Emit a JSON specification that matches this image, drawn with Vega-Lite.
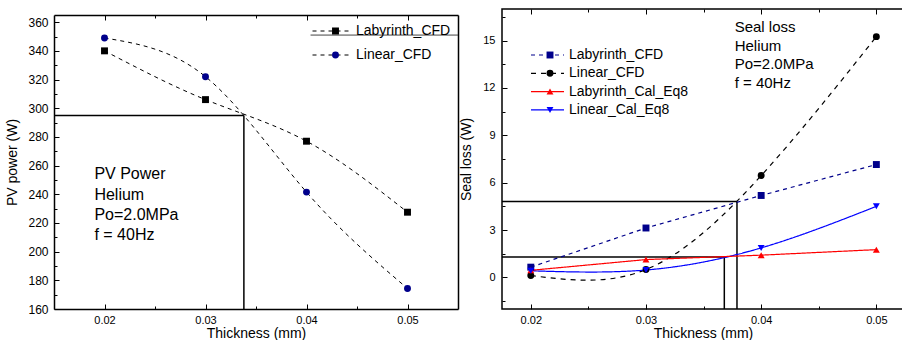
{
  "$schema": "https://vega.github.io/schema/vega-lite/v6.json",
  "background": "white",
  "padding": {"left": 5, "top": 7, "right": 0, "bottom": 0},
  "spacing": 0,
  "config": {
    "font": "Liberation Sans",
    "view": {"stroke": "black", "strokeWidth": 1.5},
    "axis": {"labelFont": "Liberation Sans", "titleFont": "Liberation Sans", "labelFontSize": 11, "titleFontSize": 14, "titleFontWeight": "normal", "labelColor": "black", "titleColor": "black", "tickColor": "black", "tickWidth": 1, "grid": false, "domain": false, "domainColor": "black", "domainWidth": 1.5},
    "legend": {"labelFont": "Liberation Sans", "labelColor": "black", "padding": 0}
  },
  "resolve": {"scale": {"x": "independent", "y": "independent", "color": "independent", "stroke": "independent", "shape": "independent", "strokeDash": "independent"}},
  "datasets": {
    "left_series": [
      {"series": "Labyrinth_CFD", "thickness": 0.02, "power": 340},
      {"series": "Labyrinth_CFD", "thickness": 0.03, "power": 306},
      {"series": "Labyrinth_CFD", "thickness": 0.04, "power": 277},
      {"series": "Labyrinth_CFD", "thickness": 0.05, "power": 227.5},
      {"series": "Linear_CFD", "thickness": 0.02, "power": 349},
      {"series": "Linear_CFD", "thickness": 0.03, "power": 322},
      {"series": "Linear_CFD", "thickness": 0.04, "power": 241.5},
      {"series": "Linear_CFD", "thickness": 0.05, "power": 174.3}
    ],
    "right_series": [
      {"series": "Labyrinth_CFD", "thickness": 0.02, "loss": 0.65},
      {"series": "Labyrinth_CFD", "thickness": 0.03, "loss": 3.13},
      {"series": "Labyrinth_CFD", "thickness": 0.04, "loss": 5.19},
      {"series": "Labyrinth_CFD", "thickness": 0.05, "loss": 7.15},
      {"series": "Linear_CFD", "thickness": 0.02, "loss": 0.12},
      {"series": "Linear_CFD", "thickness": 0.03, "loss": 0.5},
      {"series": "Linear_CFD", "thickness": 0.04, "loss": 6.45},
      {"series": "Linear_CFD", "thickness": 0.05, "loss": 15.25},
      {"series": "Labyrinth_Cal_Eq8", "thickness": 0.02, "loss": 0.45},
      {"series": "Labyrinth_Cal_Eq8", "thickness": 0.03, "loss": 1.13},
      {"series": "Labyrinth_Cal_Eq8", "thickness": 0.04, "loss": 1.41},
      {"series": "Labyrinth_Cal_Eq8", "thickness": 0.05, "loss": 1.76},
      {"series": "Linear_Cal_Eq8", "thickness": 0.02, "loss": 0.42},
      {"series": "Linear_Cal_Eq8", "thickness": 0.03, "loss": 0.47},
      {"series": "Linear_Cal_Eq8", "thickness": 0.04, "loss": 1.87},
      {"series": "Linear_Cal_Eq8", "thickness": 0.05, "loss": 4.5}
    ],
    "left_rules": [
      {"x": 0.015, "x2": 0.0338, "y": 295, "y2": 295},
      {"x": 0.0338, "x2": 0.0338, "y": 160, "y2": 295}
    ],
    "left_legend_rule": [
      {"x": 0.0404, "x2": 0.055, "y": 351}
    ],
    "right_rules": [
      {"x": 0.0175, "x2": 0.0379, "y": 4.81, "y2": 4.81},
      {"x": 0.0379, "x2": 0.0379, "y": -2, "y2": 4.81},
      {"x": 0.0175, "x2": 0.0368, "y": 1.3, "y2": 1.3},
      {"x": 0.0368, "x2": 0.0368, "y": -2, "y2": 1.3}
    ],
    "left_text": [
      {"x": 0.019, "y": 254.1, "label": "PV Power"},
      {"x": 0.019, "y": 239.4, "label": "Helium"},
      {"x": 0.019, "y": 225.5, "label": "Po=2.0MPa"},
      {"x": 0.019, "y": 211.6, "label": "f = 40Hz"}
    ],
    "right_text": [
      {"x": 0.0377, "y": 15.86, "label": "Seal loss"},
      {"x": 0.0377, "y": 14.68, "label": "Helium"},
      {"x": 0.0377, "y": 13.51, "label": "Po=2.0MPa"},
      {"x": 0.0377, "y": 12.33, "label": "f = 40Hz"}
    ]
  },
  "hconcat": [
    {
      "width": 404,
      "height": 300,
      "view": {"stroke": null},
      "resolve": {"axis": {"x": "independent", "y": "independent"}},
      "layer": [
        {
          "data": {"name": "left_rules"},
          "mark": {"type": "rule", "color": "black", "strokeWidth": 1.5},
          "encoding": {
            "x": {"field": "x", "type": "quantitative", "scale": {"domain": [0.015, 0.055], "nice": false, "zero": false},
                  "axis": {"orient": "bottom", "domain": true, "values": [0.02, 0.03, 0.04, 0.05], "format": ".2f", "tickSize": -5, "labelPadding": 10, "title": "Thickness (mm)", "titlePadding": 1}},
            "x2": {"field": "x2"},
            "y": {"field": "y", "type": "quantitative", "scale": {"domain": [160, 365], "range": [300, 6], "nice": false, "zero": false},
                  "axis": {"orient": "left", "domain": true, "values": [160, 180, 200, 220, 240, 260, 280, 300, 320, 340, 360], "tickSize": -5, "labelPadding": 11, "labelFontSize": 12, "title": "PV power (W)", "titlePadding": 8}},
            "y2": {"field": "y2"}
          }
        },
        {
          "data": {"name": "left_legend_rule"},
          "mark": {"type": "rule", "color": "#444444", "strokeWidth": 1},
          "encoding": {
            "x": {"field": "x", "type": "quantitative", "scale": {"domain": [0.015, 0.055], "nice": false, "zero": false}, "axis": null},
            "x2": {"field": "x2"},
            "y": {"field": "y", "type": "quantitative", "scale": {"domain": [160, 365], "range": [300, 6], "nice": false, "zero": false},
                  "axis": {"orient": "right", "domain": true, "ticks": false, "labels": false, "title": null}}
          }
        },
        {
          "data": {"name": "left_series"},
          "mark": {"type": "line", "interpolate": "natural", "strokeWidth": 1},
          "encoding": {
            "x": {"field": "thickness", "type": "quantitative", "scale": {"domain": [0.015, 0.055], "nice": false, "zero": false},
                  "axis": {"orient": "bottom", "values": [0.025, 0.035, 0.045], "tickSize": -3, "labels": false, "title": null}},
            "y": {"field": "power", "type": "quantitative", "scale": {"domain": [160, 365], "range": [300, 6], "nice": false, "zero": false},
                  "axis": {"orient": "left", "values": [170, 190, 210, 230, 250, 270, 290, 310, 330, 350], "tickSize": -3, "labels": false, "title": null}},
            "stroke": {"field": "series", "type": "nominal", "scale": {"domain": ["Labyrinth_CFD", "Linear_CFD"], "range": ["black", "black"]},
                       "legend": {"orient": "none", "legendX": 258, "legendY": 15, "title": null, "labelFontSize": 14, "clipHeight": 14, "rowPadding": 10, "labelOffset": 3, "symbolType": "stroke", "symbolSize": 1600, "symbolStrokeWidth": 1, "padding": 0}},
            "strokeDash": {"field": "series", "type": "nominal", "scale": {"domain": ["Labyrinth_CFD", "Linear_CFD"], "range": [[4, 4], [4, 4]]},
                       "legend": {"orient": "none", "legendX": 258, "legendY": 15, "title": null, "labelFontSize": 14, "clipHeight": 14, "rowPadding": 10, "labelOffset": 3, "symbolType": "stroke", "symbolSize": 1600, "symbolStrokeWidth": 1, "padding": 0}}
          }
        },
        {
          "data": {"name": "left_series"},
          "mark": {"type": "point", "filled": true, "opacity": 1, "size": 48},
          "encoding": {
            "x": {"field": "thickness", "type": "quantitative", "scale": {"domain": [0.015, 0.055], "nice": false, "zero": false},
                  "axis": {"orient": "top", "offset": -6, "domain": true, "values": [0.02, 0.03, 0.04, 0.05], "tickSize": -5, "labels": false, "title": null}},
            "y": {"field": "power", "type": "quantitative", "scale": {"domain": [160, 365], "range": [300, 6], "nice": false, "zero": false}, "axis": null},
            "color": {"field": "series", "type": "nominal", "scale": {"domain": ["Linear_CFD", "Labyrinth_CFD"], "range": ["#00008b", "black"]},
                      "legend": {"orient": "none", "legendX": 274.5, "legendY": 15, "title": null, "values": ["Labyrinth_CFD", "Linear_CFD"], "labelExpr": "''", "labelFontSize": 14, "labelOpacity": 0, "clipHeight": 14, "rowPadding": 10, "labelOffset": 3, "symbolSize": 48, "padding": 0}},
            "shape": {"field": "series", "type": "nominal", "scale": {"domain": ["Linear_CFD", "Labyrinth_CFD"], "range": ["circle", "square"]},
                      "legend": {"orient": "none", "legendX": 274.5, "legendY": 15, "title": null, "values": ["Labyrinth_CFD", "Linear_CFD"], "labelExpr": "''", "labelFontSize": 14, "labelOpacity": 0, "clipHeight": 14, "rowPadding": 10, "labelOffset": 3, "symbolSize": 48, "padding": 0}}
          }
        },
        {
          "data": {"name": "left_text"},
          "mark": {"type": "text", "align": "left", "baseline": "middle", "fontSize": 16, "font": "Liberation Sans", "color": "black"},
          "encoding": {
            "x": {"field": "x", "type": "quantitative", "scale": {"domain": [0.015, 0.055], "nice": false, "zero": false},
                  "axis": {"orient": "top", "offset": -6, "values": [0.025, 0.035, 0.045], "tickSize": -3, "labels": false, "title": null}},
            "y": {"field": "y", "type": "quantitative", "scale": {"domain": [160, 365], "range": [300, 6], "nice": false, "zero": false}, "axis": null},
            "text": {"field": "label"}
          }
        }
      ]
    },
    {
      "width": 402,
      "height": 300,
      "resolve": {"axis": {"x": "independent", "y": "independent"}},
      "layer": [
        {
          "data": {"name": "right_rules"},
          "mark": {"type": "rule", "color": "black", "strokeWidth": 1.5},
          "encoding": {
            "x": {"field": "x", "type": "quantitative", "scale": {"domain": [0.0175, 0.0524], "nice": false, "zero": false},
                  "axis": {"orient": "bottom", "values": [0.02, 0.03, 0.04, 0.05], "format": ".2f", "tickSize": -5, "labelPadding": 10, "title": "Thickness (mm)", "titlePadding": 1}},
            "x2": {"field": "x2"},
            "y": {"field": "y", "type": "quantitative", "scale": {"domain": [-2, 17], "nice": false, "zero": false},
                  "axis": {"orient": "left", "values": [0, 3, 6, 9, 12, 15], "tickSize": -5, "labelPadding": 12, "title": "Seal loss (W)", "titlePadding": 9}},
            "y2": {"field": "y2"}
          }
        },
        {
          "data": {"name": "right_series"},
          "transform": [{"filter": "datum.series === 'Linear_CFD' || datum.series === 'Linear_Cal_Eq8'"}],
          "mark": {"type": "line", "interpolate": "natural", "strokeWidth": 1.2},
          "encoding": {
            "x": {"field": "thickness", "type": "quantitative", "scale": {"domain": [0.0175, 0.0524], "nice": false, "zero": false},
                  "axis": {"orient": "bottom", "values": [0.025, 0.035, 0.045], "tickSize": -3, "labels": false, "title": null}},
            "y": {"field": "loss", "type": "quantitative", "scale": {"domain": [-2, 17], "nice": false, "zero": false},
                  "axis": {"orient": "left", "values": [-1.5, 1.5, 4.5, 7.5, 10.5, 13.5, 16.5], "tickSize": -3, "labels": false, "title": null}},
            "stroke": {"field": "series", "type": "nominal", "scale": {"domain": ["Labyrinth_CFD", "Linear_CFD", "Labyrinth_Cal_Eq8", "Linear_Cal_Eq8"], "range": ["#00008b", "black", "red", "blue"]},
                       "legend": {"orient": "none", "legendX": 28, "legendY": 39, "title": null, "labelFontSize": 14, "clipHeight": 14, "rowPadding": 4.3, "labelOffset": 4, "symbolType": "stroke", "symbolSize": 1089, "symbolStrokeWidth": 1.2, "padding": 0}},
            "strokeDash": {"field": "series", "type": "nominal", "scale": {"domain": ["Labyrinth_CFD", "Linear_CFD", "Labyrinth_Cal_Eq8", "Linear_Cal_Eq8"], "range": [[4, 4], [5, 5], [1, 0], [1, 0]]},
                       "legend": {"orient": "none", "legendX": 28, "legendY": 39, "title": null, "labelFontSize": 14, "clipHeight": 14, "rowPadding": 4.3, "labelOffset": 4, "symbolType": "stroke", "symbolSize": 1089, "symbolStrokeWidth": 1.2, "padding": 0}}
          }
        },
        {
          "data": {"name": "right_series"},
          "transform": [{"filter": "datum.series === 'Labyrinth_CFD' || datum.series === 'Labyrinth_Cal_Eq8'"}],
          "mark": {"type": "line", "strokeWidth": 1.2},
          "encoding": {
            "x": {"field": "thickness", "type": "quantitative", "scale": {"domain": [0.0175, 0.0524], "nice": false, "zero": false}, "axis": null},
            "y": {"field": "loss", "type": "quantitative", "scale": {"domain": [-2, 17], "nice": false, "zero": false}, "axis": null},
            "stroke": {"field": "series", "type": "nominal", "scale": {"domain": ["Labyrinth_CFD", "Linear_CFD", "Labyrinth_Cal_Eq8", "Linear_Cal_Eq8"], "range": ["#00008b", "black", "red", "blue"]},
                       "legend": {"orient": "none", "legendX": 28, "legendY": 39, "title": null, "labelFontSize": 14, "clipHeight": 14, "rowPadding": 4.3, "labelOffset": 4, "symbolType": "stroke", "symbolSize": 1089, "symbolStrokeWidth": 1.2, "padding": 0}},
            "strokeDash": {"field": "series", "type": "nominal", "scale": {"domain": ["Labyrinth_CFD", "Linear_CFD", "Labyrinth_Cal_Eq8", "Linear_Cal_Eq8"], "range": [[4, 4], [5, 5], [1, 0], [1, 0]]},
                       "legend": {"orient": "none", "legendX": 28, "legendY": 39, "title": null, "labelFontSize": 14, "clipHeight": 14, "rowPadding": 4.3, "labelOffset": 4, "symbolType": "stroke", "symbolSize": 1089, "symbolStrokeWidth": 1.2, "padding": 0}}
          }
        },
        {
          "data": {"name": "right_series"},
          "mark": {"type": "point", "filled": true, "opacity": 1, "size": 48},
          "encoding": {
            "x": {"field": "thickness", "type": "quantitative", "scale": {"domain": [0.0175, 0.0524], "nice": false, "zero": false},
                  "axis": {"orient": "top", "values": [0.02, 0.03, 0.04, 0.05], "tickSize": -5, "labels": false, "title": null}},
            "y": {"field": "loss", "type": "quantitative", "scale": {"domain": [-2, 17], "nice": false, "zero": false}, "axis": null},
            "color": {"field": "series", "type": "nominal", "scale": {"domain": ["Linear_Cal_Eq8", "Labyrinth_Cal_Eq8", "Linear_CFD", "Labyrinth_CFD"], "range": ["blue", "red", "black", "#00008b"]},
                      "legend": {"orient": "none", "legendX": 41, "legendY": 39, "title": null, "values": ["Labyrinth_CFD", "Linear_CFD", "Labyrinth_Cal_Eq8", "Linear_Cal_Eq8"], "labelExpr": "''", "labelFontSize": 14, "labelOpacity": 0, "clipHeight": 14, "rowPadding": 4.3, "labelOffset": 4, "symbolSize": 48, "padding": 0}},
            "shape": {"field": "series", "type": "nominal", "scale": {"domain": ["Linear_Cal_Eq8", "Labyrinth_Cal_Eq8", "Linear_CFD", "Labyrinth_CFD"], "range": ["triangle-down", "triangle-up", "circle", "square"]},
                      "legend": {"orient": "none", "legendX": 41, "legendY": 39, "title": null, "values": ["Labyrinth_CFD", "Linear_CFD", "Labyrinth_Cal_Eq8", "Linear_Cal_Eq8"], "labelExpr": "''", "labelFontSize": 14, "labelOpacity": 0, "clipHeight": 14, "rowPadding": 4.3, "labelOffset": 4, "symbolSize": 48, "padding": 0}}
          }
        },
        {
          "data": {"name": "right_text"},
          "mark": {"type": "text", "align": "left", "baseline": "middle", "fontSize": 15, "font": "Liberation Sans", "color": "black"},
          "encoding": {
            "x": {"field": "x", "type": "quantitative", "scale": {"domain": [0.0175, 0.0524], "nice": false, "zero": false},
                  "axis": {"orient": "top", "values": [0.025, 0.035, 0.045], "tickSize": -3, "labels": false, "title": null}},
            "y": {"field": "y", "type": "quantitative", "scale": {"domain": [-2, 17], "nice": false, "zero": false}, "axis": null},
            "text": {"field": "label"}
          }
        }
      ]
    }
  ]
}
